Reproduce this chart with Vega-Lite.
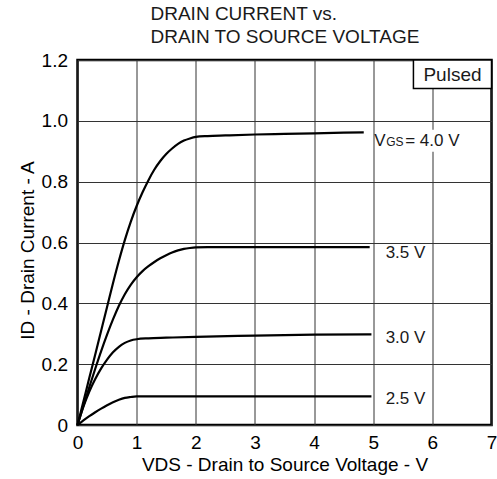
{
  "$schema": "https://vega.github.io/schema/vega-lite/v6.json",
  "width": 414,
  "height": 365,
  "autosize": "none",
  "padding": {"left": 77.5, "top": 60, "right": 5, "bottom": 54},
  "background": "white",
  "config": {
    "font": "Liberation Sans",
    "view": {"stroke": "black", "strokeWidth": 2.5},
    "axis": {
      "domain": false,
      "ticks": false,
      "grid": true,
      "gridColor": "#333333",
      "gridWidth": 1,
      "labelFontSize": 19,
      "labelColor": "black",
      "labelFont": "Liberation Sans",
      "titleFont": "Liberation Sans",
      "titleFontSize": 19,
      "titleFontWeight": "normal",
      "titleColor": "black",
      "labelFlush": false,
      "labelOverlap": false
    }
  },
  "title": {
    "text": ["DRAIN CURRENT vs.", "DRAIN TO SOURCE VOLTAGE"],
    "anchor": "start",
    "frame": "group",
    "dx": 73,
    "fontSize": 19,
    "fontWeight": "normal",
    "lineHeight": 23,
    "color": "#1a1a1a",
    "font": "Liberation Sans"
  },
  "datasets": {
    "curves": [
      {"vgs": "4.0", "vds": 0, "id": 0},
      {"vgs": "4.0", "vds": 0.1, "id": 0.077},
      {"vgs": "4.0", "vds": 0.2, "id": 0.155},
      {"vgs": "4.0", "vds": 0.3, "id": 0.232},
      {"vgs": "4.0", "vds": 0.4, "id": 0.31},
      {"vgs": "4.0", "vds": 0.5, "id": 0.388},
      {"vgs": "4.0", "vds": 0.6, "id": 0.466},
      {"vgs": "4.0", "vds": 0.7, "id": 0.54},
      {"vgs": "4.0", "vds": 0.8, "id": 0.608},
      {"vgs": "4.0", "vds": 0.9, "id": 0.668},
      {"vgs": "4.0", "vds": 1.0, "id": 0.72},
      {"vgs": "4.0", "vds": 1.1, "id": 0.765},
      {"vgs": "4.0", "vds": 1.2, "id": 0.805},
      {"vgs": "4.0", "vds": 1.3, "id": 0.84},
      {"vgs": "4.0", "vds": 1.4, "id": 0.868},
      {"vgs": "4.0", "vds": 1.5, "id": 0.891},
      {"vgs": "4.0", "vds": 1.6, "id": 0.909},
      {"vgs": "4.0", "vds": 1.7, "id": 0.924},
      {"vgs": "4.0", "vds": 1.8, "id": 0.935},
      {"vgs": "4.0", "vds": 1.9, "id": 0.942},
      {"vgs": "4.0", "vds": 2.0, "id": 0.947},
      {"vgs": "4.0", "vds": 2.2, "id": 0.95},
      {"vgs": "4.0", "vds": 2.5, "id": 0.952},
      {"vgs": "4.0", "vds": 3.0, "id": 0.955},
      {"vgs": "4.0", "vds": 3.5, "id": 0.957},
      {"vgs": "4.0", "vds": 4.0, "id": 0.959},
      {"vgs": "4.0", "vds": 4.5, "id": 0.961},
      {"vgs": "4.0", "vds": 4.84, "id": 0.962},
      {"vgs": "3.5", "vds": 0, "id": 0},
      {"vgs": "3.5", "vds": 0.1, "id": 0.063},
      {"vgs": "3.5", "vds": 0.2, "id": 0.125},
      {"vgs": "3.5", "vds": 0.3, "id": 0.185},
      {"vgs": "3.5", "vds": 0.4, "id": 0.243},
      {"vgs": "3.5", "vds": 0.5, "id": 0.297},
      {"vgs": "3.5", "vds": 0.6, "id": 0.347},
      {"vgs": "3.5", "vds": 0.7, "id": 0.392},
      {"vgs": "3.5", "vds": 0.8, "id": 0.43},
      {"vgs": "3.5", "vds": 0.9, "id": 0.461},
      {"vgs": "3.5", "vds": 1.0, "id": 0.486},
      {"vgs": "3.5", "vds": 1.1, "id": 0.506},
      {"vgs": "3.5", "vds": 1.2, "id": 0.522},
      {"vgs": "3.5", "vds": 1.3, "id": 0.536},
      {"vgs": "3.5", "vds": 1.4, "id": 0.548},
      {"vgs": "3.5", "vds": 1.5, "id": 0.558},
      {"vgs": "3.5", "vds": 1.6, "id": 0.567},
      {"vgs": "3.5", "vds": 1.7, "id": 0.574},
      {"vgs": "3.5", "vds": 1.8, "id": 0.579},
      {"vgs": "3.5", "vds": 1.9, "id": 0.582},
      {"vgs": "3.5", "vds": 2.0, "id": 0.584},
      {"vgs": "3.5", "vds": 2.2, "id": 0.585},
      {"vgs": "3.5", "vds": 3.0, "id": 0.585},
      {"vgs": "3.5", "vds": 4.0, "id": 0.585},
      {"vgs": "3.5", "vds": 4.94, "id": 0.585},
      {"vgs": "3.0", "vds": 0, "id": 0},
      {"vgs": "3.0", "vds": 0.1, "id": 0.06},
      {"vgs": "3.0", "vds": 0.2, "id": 0.11},
      {"vgs": "3.0", "vds": 0.3, "id": 0.151},
      {"vgs": "3.0", "vds": 0.4, "id": 0.186},
      {"vgs": "3.0", "vds": 0.5, "id": 0.215},
      {"vgs": "3.0", "vds": 0.6, "id": 0.239},
      {"vgs": "3.0", "vds": 0.7, "id": 0.257},
      {"vgs": "3.0", "vds": 0.8, "id": 0.27},
      {"vgs": "3.0", "vds": 0.9, "id": 0.278},
      {"vgs": "3.0", "vds": 1.0, "id": 0.282},
      {"vgs": "3.0", "vds": 1.2, "id": 0.285},
      {"vgs": "3.0", "vds": 1.5, "id": 0.287},
      {"vgs": "3.0", "vds": 2.0, "id": 0.29},
      {"vgs": "3.0", "vds": 3.0, "id": 0.294},
      {"vgs": "3.0", "vds": 4.0, "id": 0.297},
      {"vgs": "3.0", "vds": 4.97, "id": 0.298},
      {"vgs": "2.5", "vds": 0, "id": 0},
      {"vgs": "2.5", "vds": 0.1, "id": 0.015},
      {"vgs": "2.5", "vds": 0.2, "id": 0.029},
      {"vgs": "2.5", "vds": 0.3, "id": 0.042},
      {"vgs": "2.5", "vds": 0.4, "id": 0.054},
      {"vgs": "2.5", "vds": 0.5, "id": 0.065},
      {"vgs": "2.5", "vds": 0.6, "id": 0.075},
      {"vgs": "2.5", "vds": 0.7, "id": 0.083},
      {"vgs": "2.5", "vds": 0.8, "id": 0.089},
      {"vgs": "2.5", "vds": 0.9, "id": 0.092},
      {"vgs": "2.5", "vds": 1.0, "id": 0.094},
      {"vgs": "2.5", "vds": 1.2, "id": 0.094},
      {"vgs": "2.5", "vds": 2.0, "id": 0.094},
      {"vgs": "2.5", "vds": 3.0, "id": 0.094},
      {"vgs": "2.5", "vds": 4.0, "id": 0.094},
      {"vgs": "2.5", "vds": 4.97, "id": 0.094}
    ],
    "boxes": [
      {"name": "vgslabel", "vds": 5.03, "vds2": 6.45, "id": 0.898, "id2": 0.971}
    ],
    "pulsedbox": [
      {"vds": 5.68, "vds2": 7, "id": 1.106, "id2": 1.2}
    ],
    "pulsedtext": [
      {"vds": 6.34, "id": 1.152, "t": "Pulsed"}
    ],
    "labels": [
      {"vds": 5.21, "id": 0.548, "t": "3.5 V"},
      {"vds": 5.21, "id": 0.271, "t": "3.0 V"},
      {"vds": 5.21, "id": 0.07, "t": "2.5 V"}
    ],
    "vgs": [
      {"vds": 5.0, "id": 0.916, "a": "V", "b": "GS", "c": "= 4.0 V"}
    ]
  },
  "encoding": {
    "x": {
      "field": "vds",
      "type": "quantitative",
      "scale": {"domain": [0, 7], "nice": false, "zero": false},
      "axis": {
        "values": [0, 1, 2, 3, 4, 5, 6, 7],
        "format": "d",
        "labelPadding": 8,
        "titlePadding": 3,
        "title": "VDS - Drain to Source Voltage - V"
      }
    },
    "y": {
      "field": "id",
      "type": "quantitative",
      "scale": {"domain": [0, 1.2], "nice": false, "zero": false},
      "axis": {
        "values": [0, 0.2, 0.4, 0.6, 0.8, 1.0, 1.2],
        "labelExpr": "datum.value == 0 ? '0' : format(datum.value, '.1f')",
        "labelPadding": 10,
        "titlePadding": 4,
        "titleY": 190,
        "title": "ID - Drain Current - A"
      }
    }
  },
  "layer": [
    {
      "data": {"name": "curves"},
      "mark": {"type": "line", "color": "black", "strokeWidth": 2.2, "interpolate": "monotone"},
      "encoding": {"detail": {"field": "vgs", "type": "nominal"}}
    },
    {
      "data": {"name": "boxes"},
      "mark": {"type": "rect", "fill": "white", "stroke": null},
      "encoding": {"x2": {"field": "vds2"}, "y2": {"field": "id2"}}
    },
    {
      "data": {"name": "pulsedbox"},
      "mark": {"type": "rect", "fill": "white", "stroke": "black", "strokeWidth": 1.5},
      "encoding": {"x2": {"field": "vds2"}, "y2": {"field": "id2"}}
    },
    {
      "data": {"name": "pulsedtext"},
      "mark": {"type": "text", "align": "center", "baseline": "middle", "fontSize": 19, "color": "#1a1a1a"},
      "encoding": {"text": {"field": "t"}}
    },
    {
      "data": {"name": "labels"},
      "mark": {"type": "text", "align": "left", "baseline": "alphabetic", "fontSize": 17, "color": "#1a1a1a"},
      "encoding": {"text": {"field": "t"}}
    },
    {
      "data": {"name": "vgs"},
      "mark": {"type": "text", "align": "left", "baseline": "alphabetic", "fontSize": 17, "dx": 1, "color": "#1a1a1a"},
      "encoding": {"text": {"field": "a"}}
    },
    {
      "data": {"name": "vgs"},
      "mark": {"type": "text", "align": "left", "baseline": "alphabetic", "fontSize": 12, "dx": 13, "color": "#1a1a1a"},
      "encoding": {"text": {"field": "b"}}
    },
    {
      "data": {"name": "vgs"},
      "mark": {"type": "text", "align": "left", "baseline": "alphabetic", "fontSize": 17, "dx": 32, "color": "#1a1a1a"},
      "encoding": {"text": {"field": "c"}}
    }
  ]
}
